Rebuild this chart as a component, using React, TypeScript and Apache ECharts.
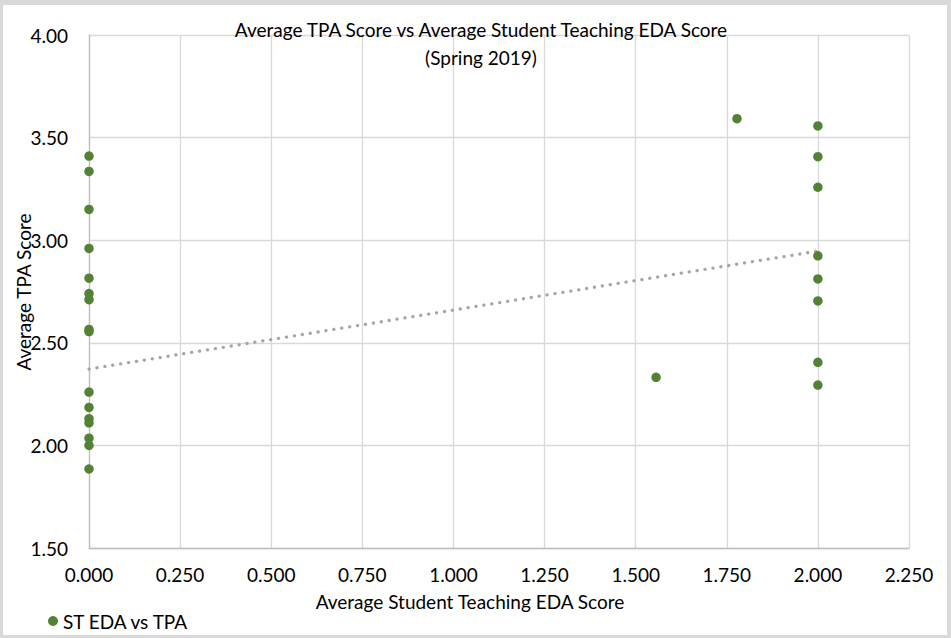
import React, { useEffect, useRef } from "react";
import * as echarts from "echarts";

const chartTitle = "Average TPA Score vs Average Student Teaching EDA Score\n(Spring 2019)";
const xAxisTitle = "Average Student Teaching EDA Score";
const yAxisTitle = "Average TPA Score";
const seriesName = "ST EDA vs TPA";

// Average Student Teaching EDA score (x) for each student
const edaScores = [
  0, 0, 0, 0, 0, 0, 0, 0, 0, 0, 0, 0, 0, 0, 0, 0,
  2, 2, 2, 2, 2, 2, 2, 2,
  1.556, 1.778,
];
// Average TPA score (y) for each student
const tpaScores = [
  3.41, 3.335, 3.15, 2.96, 2.815, 2.74, 2.71, 2.565, 2.555, 2.26, 2.185, 2.13, 2.11, 2.035, 2.0, 1.885,
  3.557, 3.407, 3.258, 2.924, 2.811, 2.704, 2.405, 2.294,
  2.332, 3.592,
];
// Linear trendline end points
const trendX = [0, 2];
const trendY = [2.372, 2.947];

const xMin = 0, xMax = 2.25, xStep = 0.25;
const yMin = 1.5, yMax = 4, yStep = 0.5;

const FONT = "Lato, 'Open Sans', sans-serif";
const FS = 19;

export default function App() {
  const ref = useRef<HTMLDivElement>(null);
  useEffect(() => {
    if (!ref.current) return;
    const chart = echarts.init(ref.current, undefined, { renderer: "svg" });
    const points = edaScores.map((x, i) => [x, tpaScores[i]]);
    const trend = trendX.map((x, i) => [x, trendY[i]]);
    const frame = "#d9d9d9";
    chart.setOption({
      animation: false,
      backgroundColor: "#ffffff",
      textStyle: { fontFamily: FONT },
      title: {
        text: chartTitle,
        left: 476,
        textAlign: "center",
        top: 10,
        textStyle: { fontFamily: FONT, fontSize: FS, fontWeight: "normal", color: "#000", lineHeight: 28 },
      },
      legend: {
        data: [{ name: seriesName, icon: "circle" }],
        left: 43,
        top: 605,
        itemWidth: 10,
        itemHeight: 10,
        textStyle: { fontFamily: FONT, fontSize: FS, color: "#000", lineHeight: 22 },
      },
      grid: { left: 89, top: 35, width: 820, height: 513, containLabel: false, outerBoundsMode: "none" },
      xAxis: {
        type: "value",
        min: xMin,
        max: xMax,
        interval: xStep,
        axisLine: { show: true, lineStyle: { color: "#bfbfbf", width: 1.3 } },
        axisTick: { show: false },
        splitLine: { show: true, lineStyle: { color: "#d9d9d9", width: 1.3 } },
        axisLabel: {
          margin: 17,
          fontFamily: FONT,
          fontSize: FS,
          color: "#000",
          formatter: (v: number) => v.toFixed(3),
        },
      },
      yAxis: {
        type: "value",
        min: yMin,
        max: yMax,
        interval: yStep,
        axisLine: { show: true, lineStyle: { color: "#bfbfbf", width: 1.3 } },
        axisTick: { show: false },
        splitLine: { show: true, lineStyle: { color: "#d9d9d9", width: 1.3 } },
        axisLabel: {
          margin: 21,
          fontFamily: FONT,
          fontSize: FS,
          color: "#000",
          formatter: (v: number) => v.toFixed(2),
        },
      },
      graphic: [
        { type: "rect", shape: { x: 0, y: 0, width: 951, height: 5 }, style: { fill: frame }, silent: true },
        { type: "rect", shape: { x: 0, y: 635, width: 951, height: 3 }, style: { fill: frame }, silent: true },
        { type: "rect", shape: { x: 0, y: 0, width: 3, height: 638 }, style: { fill: frame }, silent: true },
        { type: "rect", shape: { x: 947, y: 0, width: 4, height: 638 }, style: { fill: frame }, silent: true },
        {
          type: "text",
          x: 470,
          y: 601,
          style: {
            text: xAxisTitle,
            fontFamily: FONT,
            fontSize: FS,
            fill: "#000",
            align: "center",
            verticalAlign: "middle",
          },
        },
        {
          type: "text",
          x: 23,
          y: 292,
          rotation: Math.PI / 2,
          style: {
            text: yAxisTitle,
            fontFamily: FONT,
            fontSize: FS,
            fill: "#000",
            align: "center",
            verticalAlign: "middle",
          },
        },
      ],
      series: [
        {
          name: "Linear trend",
          type: "line",
          data: trend,
          symbol: "none",
          lineStyle: { color: "#a6a6a6", width: 3.3, type: [0.1, 7.9], cap: "round" },
          z: 1,
        },
        {
          name: seriesName,
          type: "scatter",
          data: points,
          symbol: "circle",
          symbolSize: 9.5,
          itemStyle: { color: "#548235", opacity: 1 },
          z: 2,
        },
      ],
    });
    return () => chart.dispose();
  }, []);
  return (
    <div style={{ position: "absolute", left: 0, top: 0, width: 951, height: 638 }}>
      <div ref={ref} style={{ width: 951, height: 638 }} />
    </div>
  );
}
